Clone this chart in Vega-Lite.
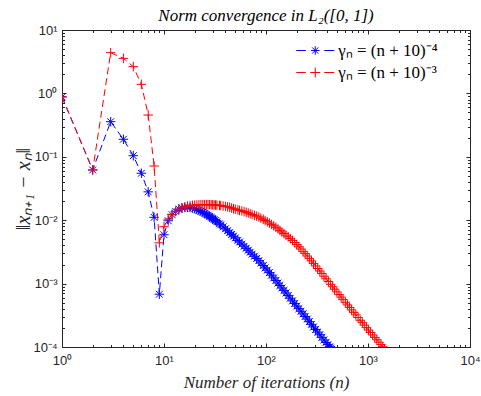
{
  "$schema": "https://vega.github.io/schema/vega-lite/v6.json",
  "width": 408,
  "height": 317,
  "autosize": {"type": "none"},
  "padding": {"left": 62, "top": 30, "right": 11, "bottom": 49},
  "background": "white",
  "config": {
    "view": {"stroke": "#262626", "strokeWidth": 1},
    "axis": {
      "domainColor": "#262626", "tickColor": "#262626", "labelColor": "#262626",
      "labelFont": "Liberation Sans", "labelFontSize": 13,
      "titleFont": "Liberation Serif", "titleFontStyle": "italic", "titleFontWeight": "normal",
      "titleFontSize": 17, "titleColor": "#262626",
      "grid": false, "labelOverlap": false, "labelFlush": false,
      "domainWidth": 1, "tickWidth": 1
    }
  },
  "title": {
    "text": "Norm convergence in L₂([0, 1])",
    "font": "Liberation Serif", "fontStyle": "italic", "fontWeight": "normal",
    "fontSize": 17, "color": "#000000", "anchor": "middle", "baseline": "bottom", "offset": 8, "dy": 26
  },
  "data": {"values": [
    {"s":"g4","n":1,"v":0.88},{"s":"g4","n":2,"v":0.062},{"s":"g4","n":3,"v":0.358},{"s":"g4","n":4,"v":0.189},
    {"s":"g4","n":5,"v":0.104},{"s":"g4","n":6,"v":0.055},{"s":"g4","n":7,"v":0.028},{"s":"g4","n":8,"v":0.0111},
    {"s":"g4","n":9,"v":0.00068},{"s":"g4","n":10,"v":0.0059},{"s":"g4","n":11,"v":0.0098},{"s":"g4","n":12,"v":0.0122},
    {"s":"g4","n":13,"v":0.0138},{"s":"g4","n":14,"v":0.015},{"s":"g4","n":15,"v":0.0156},{"s":"g4","n":16,"v":0.01586},
    {"s":"g4","n":17,"v":0.01598},{"s":"g4","n":18,"v":0.01586},{"s":"g4","n":19,"v":0.01557},{"s":"g4","n":20,"v":0.01518},
    {"s":"g4","n":21,"v":0.01475},{"s":"g4","n":22,"v":0.01433},{"s":"g4","n":23,"v":0.01384},{"s":"g4","n":24,"v":0.01337},
    {"s":"g4","n":25,"v":0.01289},{"s":"g4","n":26,"v":0.01243},{"s":"g4","n":27,"v":0.01197},{"s":"g4","n":28,"v":0.01152},
    {"s":"g4","n":29,"v":0.01107},{"s":"g4","n":30,"v":0.01063},{"s":"g4","n":31,"v":0.01025},{"s":"g4","n":32,"v":0.00985},
    {"s":"g4","n":33,"v":0.00947},{"s":"g4","n":35,"v":0.00878},{"s":"g4","n":36,"v":0.00846},{"s":"g4","n":38,"v":0.00787},
    {"s":"g4","n":40,"v":0.00732},{"s":"g4","n":42,"v":0.00683},{"s":"g4","n":44,"v":0.00637},{"s":"g4","n":46,"v":0.00597},
    {"s":"g4","n":48,"v":0.00559},{"s":"g4","n":50,"v":0.00525},{"s":"g4","n":53,"v":0.0048},{"s":"g4","n":55,"v":0.00453},
    {"s":"g4","n":58,"v":0.00418},{"s":"g4","n":61,"v":0.00388},{"s":"g4","n":64,"v":0.0036},{"s":"g4","n":67,"v":0.00336},
    {"s":"g4","n":70,"v":0.00313},{"s":"g4","n":73,"v":0.00291},{"s":"g4","n":77,"v":0.0027},{"s":"g4","n":81,"v":0.00249},
    {"s":"g4","n":85,"v":0.0023},{"s":"g4","n":89,"v":0.00211},{"s":"g4","n":94,"v":0.00193},{"s":"g4","n":98,"v":0.00177},
    {"s":"g4","n":103,"v":0.00163},{"s":"g4","n":108,"v":0.00149},{"s":"g4","n":113,"v":0.00136},{"s":"g4","n":119,"v":0.00123},
    {"s":"g4","n":125,"v":0.00112},{"s":"g4","n":131,"v":0.00102},{"s":"g4","n":137,"v":0.000933},{"s":"g4","n":143,"v":0.000853},
    {"s":"g4","n":150,"v":0.000781},{"s":"g4","n":157,"v":0.000711},{"s":"g4","n":165,"v":0.000647},{"s":"g4","n":173,"v":0.000588},
    {"s":"g4","n":182,"v":0.000534},{"s":"g4","n":191,"v":0.000486},{"s":"g4","n":200,"v":0.000442},{"s":"g4","n":210,"v":0.000402},
    {"s":"g4","n":220,"v":0.000366},{"s":"g4","n":231,"v":0.000333},{"s":"g4","n":242,"v":0.000303},{"s":"g4","n":254,"v":0.000276},
    {"s":"g4","n":266,"v":0.000251},{"s":"g4","n":279,"v":0.000228},{"s":"g4","n":292,"v":0.000207},{"s":"g4","n":306,"v":0.000189},
    {"s":"g4","n":321,"v":0.000172},{"s":"g4","n":337,"v":0.000156},{"s":"g4","n":353,"v":0.000142},{"s":"g4","n":370,"v":0.000129},
    {"s":"g4","n":388,"v":0.000118},{"s":"g4","n":404,"v":0.000109},{"s":"g4","n":420,"v":0.0001007},{"s":"g4","n":430,"v":0.0000961},
    {"s":"g4","n":440,"v":0.0000917},
    {"s":"g3","n":1,"v":0.88},{"s":"g3","n":2,"v":0.062},{"s":"g3","n":3,"v":4.39},{"s":"g3","n":4,"v":3.57},
    {"s":"g3","n":5,"v":2.64},{"s":"g3","n":6,"v":1.39},{"s":"g3","n":7,"v":0.456},{"s":"g3","n":8,"v":0.0716},
    {"s":"g3","n":9,"v":0.0044},{"s":"g3","n":10,"v":0.0079},{"s":"g3","n":11,"v":0.0104},{"s":"g3","n":12,"v":0.0124},
    {"s":"g3","n":13,"v":0.0137},{"s":"g3","n":14,"v":0.0148},{"s":"g3","n":15,"v":0.0157},{"s":"g3","n":16,"v":0.0163},
    {"s":"g3","n":17,"v":0.0167},{"s":"g3","n":18,"v":0.017},{"s":"g3","n":19,"v":0.0172},{"s":"g3","n":20,"v":0.0173},
    {"s":"g3","n":21,"v":0.0174},{"s":"g3","n":22,"v":0.0175},{"s":"g3","n":23,"v":0.01755},{"s":"g3","n":24,"v":0.0176},
    {"s":"g3","n":25,"v":0.0176},{"s":"g3","n":26,"v":0.0176},{"s":"g3","n":27,"v":0.0176},{"s":"g3","n":28,"v":0.0176},
    {"s":"g3","n":29,"v":0.01755},{"s":"g3","n":30,"v":0.0175},{"s":"g3","n":31,"v":0.0174},{"s":"g3","n":32,"v":0.01735},
    {"s":"g3","n":33,"v":0.0173},{"s":"g3","n":35,"v":0.0171},{"s":"g3","n":36,"v":0.017},{"s":"g3","n":38,"v":0.01675},
    {"s":"g3","n":40,"v":0.0165},{"s":"g3","n":42,"v":0.01625},{"s":"g3","n":44,"v":0.016},{"s":"g3","n":46,"v":0.01555},
    {"s":"g3","n":48,"v":0.01513},{"s":"g3","n":50,"v":0.01489},{"s":"g3","n":53,"v":0.01454},{"s":"g3","n":55,"v":0.01427},
    {"s":"g3","n":58,"v":0.01402},{"s":"g3","n":61,"v":0.01366},{"s":"g3","n":64,"v":0.01332},{"s":"g3","n":67,"v":0.01296},
    {"s":"g3","n":70,"v":0.01261},{"s":"g3","n":73,"v":0.01227},{"s":"g3","n":77,"v":0.01195},{"s":"g3","n":81,"v":0.01158},
    {"s":"g3","n":85,"v":0.01123},{"s":"g3","n":89,"v":0.01077},{"s":"g3","n":94,"v":0.01033},{"s":"g3","n":98,"v":0.00988},
    {"s":"g3","n":103,"v":0.00944},{"s":"g3","n":108,"v":0.009},{"s":"g3","n":113,"v":0.00859},{"s":"g3","n":119,"v":0.00815},
    {"s":"g3","n":125,"v":0.00773},{"s":"g3","n":131,"v":0.0073},{"s":"g3","n":137,"v":0.0069},{"s":"g3","n":143,"v":0.00653},
    {"s":"g3","n":150,"v":0.00617},{"s":"g3","n":157,"v":0.00581},{"s":"g3","n":165,"v":0.00547},{"s":"g3","n":173,"v":0.00512},
    {"s":"g3","n":182,"v":0.0048},{"s":"g3","n":191,"v":0.00445},{"s":"g3","n":200,"v":0.00412},{"s":"g3","n":210,"v":0.0038},
    {"s":"g3","n":220,"v":0.00351},{"s":"g3","n":231,"v":0.00323},{"s":"g3","n":242,"v":0.00297},{"s":"g3","n":254,"v":0.00272},
    {"s":"g3","n":266,"v":0.0025},{"s":"g3","n":279,"v":0.00228},{"s":"g3","n":292,"v":0.00208},{"s":"g3","n":306,"v":0.0019},
    {"s":"g3","n":321,"v":0.00173},{"s":"g3","n":337,"v":0.00158},{"s":"g3","n":353,"v":0.00144},{"s":"g3","n":370,"v":0.00131},
    {"s":"g3","n":388,"v":0.00119},{"s":"g3","n":409,"v":0.00108},{"s":"g3","n":430,"v":0.000975},{"s":"g3","n":450,"v":0.000892},
    {"s":"g3","n":470,"v":0.000816},{"s":"g3","n":495,"v":0.00074},{"s":"g3","n":520,"v":0.000671},{"s":"g3","n":545,"v":0.000612},
    {"s":"g3","n":570,"v":0.000559},{"s":"g3","n":600,"v":0.000508},{"s":"g3","n":630,"v":0.000461},{"s":"g3","n":660,"v":0.000421},
    {"s":"g3","n":690,"v":0.000385},{"s":"g3","n":725,"v":0.000352},{"s":"g3","n":760,"v":0.000321},{"s":"g3","n":800,"v":0.000291},
    {"s":"g3","n":840,"v":0.000264},{"s":"g3","n":880,"v":0.000242},{"s":"g3","n":920,"v":0.000221},{"s":"g3","n":965,"v":0.000202},
    {"s":"g3","n":1010,"v":0.000185},{"s":"g3","n":1060,"v":0.000169},{"s":"g3","n":1110,"v":0.000155},{"s":"g3","n":1165,"v":0.000142},
    {"s":"g3","n":1220,"v":0.00013},{"s":"g3","n":1280,"v":0.000119},{"s":"g3","n":1340,"v":0.000109},{"s":"g3","n":1395,"v":0.000101},
    {"s":"g3","n":1450,"v":0.0000944}
  ]},
  "encoding": {
    "x": {"field": "n", "type": "quantitative", "scale": {"type": "log", "domain": [1, 10000]}, "axis": null},
    "y": {"field": "v", "type": "quantitative", "scale": {"type": "log", "domain": [0.0001, 10]}, "axis": null}
  },
  "layer": [
    {
      "transform": [{"filter": "datum.s == 'g4'"}],
      "mark": {"type": "line", "color": "#0000ff", "strokeDash": [7, 4], "strokeWidth": 1, "clip": true},
      "encoding": {
        "x": {"field": "n", "type": "quantitative",
          "scale": {"type": "log", "domain": [1, 10000]},
          "axis": {"orient": "bottom",
            "values": [1,2,3,4,5,6,7,8,9,10,20,30,40,50,60,70,80,90,100,200,300,400,500,600,700,800,900,1000,2000,3000,4000,5000,6000,7000,8000,9000,10000],
            "tickSize": {"condition": {"test": "abs(log(datum.value)/LN10 - round(log(datum.value)/LN10)) < 0.001", "value": -4}, "value": -2.5},
            "labelPadding": 11,
            "labelExpr": "abs(log(datum.value)/LN10 - round(log(datum.value)/LN10)) < 0.001 ? ('10' + (datum.value < 0.5 ? '⁻' : '') + ['⁰','¹','²','³','⁴'][abs(round(log(datum.value)/LN10))]) : ''",
            "title": "Number of iterations (n)", "titlePadding": 6}},
        "y": {"field": "v", "type": "quantitative",
          "scale": {"type": "log", "domain": [0.0001, 10]},
          "axis": {"orient": "left",
            "values": [0.0001,0.0002,0.0003,0.0004,0.0005,0.0006,0.0007,0.0008,0.0009,0.001,0.002,0.003,0.004,0.005,0.006,0.007,0.008,0.009,0.01,0.02,0.03,0.04,0.05,0.06,0.07,0.08,0.09,0.1,0.2,0.3,0.4,0.5,0.6,0.7,0.8,0.9,1,2,3,4,5,6,7,8,9,10],
            "tickSize": {"condition": {"test": "abs(log(datum.value)/LN10 - round(log(datum.value)/LN10)) < 0.001", "value": -4}, "value": -2.5},
            "labelPadding": 9,
            "labelExpr": "abs(log(datum.value)/LN10 - round(log(datum.value)/LN10)) < 0.001 ? ('10' + (datum.value < 0.5 ? '⁻' : '') + ['⁰','¹','²','³','⁴'][abs(round(log(datum.value)/LN10))]) : ''",
            "title": "‖xₙ₊₁ − xₙ‖", "titleFontSize": 20, "titlePadding": -1}}
      }
    },
    {
      "transform": [{"filter": "datum.s == 'g4'"}],
      "mark": {"type": "point", "filled": false, "color": "#0000ff", "strokeWidth": 1, "opacity": 1, "size": 90, "clip": true,
        "shape": "M-1,0L1,0M0,-1L0,1M-0.72,-0.72L0.72,0.72M-0.72,0.72L0.72,-0.72"},
      "encoding": {}
    },
    {
      "transform": [{"filter": "datum.s == 'g3'"}],
      "mark": {"type": "line", "color": "#ff0000", "strokeDash": [7, 4], "strokeWidth": 1, "clip": true},
      "encoding": {}
    },
    {
      "transform": [{"filter": "datum.s == 'g3'"}],
      "mark": {"type": "point", "filled": false, "color": "#ff0000", "strokeWidth": 1, "opacity": 1, "size": 90, "clip": true,
        "shape": "M-1,0L1,0M0,-1L0,1"},
      "encoding": {}
    },
    {
      "transform": [{"filter": "false"}],
      "mark": {"type": "point", "filled": false, "strokeWidth": 1, "opacity": 1, "size": 90},
      "encoding": {
        "color": {"field": "s", "type": "nominal",
          "scale": {"domain": ["g4", "g3"], "range": ["#0000ff", "#ff0000"]},
          "legend": {
            "orient": "none", "legendX": 230.5, "legendY": 12, "title": null, "padding": 0,
            "symbolSize": 90, "symbolStrokeWidth": 1, "symbolFillColor": "transparent", "symbolOffset": 14.25,
            "labelFont": "Liberation Serif", "labelFontSize": 17, "labelColor": "#000000", "labelOffset": 14.5,
            "rowPadding": 4,
            "labelExpr": "datum.value == 'g4' ? 'γₙ = (n + 10)⁻⁴' : 'γₙ = (n + 10)⁻³'"
          }},
        "shape": {"field": "s", "type": "nominal",
          "scale": {"domain": ["g4", "g3"], "range": [
            "M-4,0L-2,0M1.9,0L4,0M-0.9,0L0.9,0M0,-0.9L0,0.9M-0.65,-0.65L0.65,0.65M-0.65,0.65L0.65,-0.65",
            "M-4,0L-2,0M1.9,0L4,0M-1.05,0L1.05,0M0,-1.05L0,1.05"]},
          "legend": {
            "orient": "none", "legendX": 230.5, "legendY": 12, "title": null, "padding": 0,
            "symbolSize": 90, "symbolStrokeWidth": 1, "symbolFillColor": "transparent", "symbolOffset": 14.25,
            "labelFont": "Liberation Serif", "labelFontSize": 17, "labelColor": "#000000", "labelOffset": 14.5,
            "rowPadding": 4,
            "labelExpr": "datum.value == 'g4' ? 'γₙ = (n + 10)⁻⁴' : 'γₙ = (n + 10)⁻³'"
          }}
      }
    },
    {
      "mark": {"type": "point", "opacity": 0},
      "encoding": {
        "x": {"field": "n", "type": "quantitative", "scale": {"type": "log", "domain": [1, 10000]},
          "axis": {"orient": "top", "labels": false, "title": null,
            "values": [1,2,3,4,5,6,7,8,9,10,20,30,40,50,60,70,80,90,100,200,300,400,500,600,700,800,900,1000,2000,3000,4000,5000,6000,7000,8000,9000,10000],
            "tickSize": {"condition": {"test": "abs(log(datum.value)/LN10 - round(log(datum.value)/LN10)) < 0.001", "value": -4}, "value": -2.5}}},
        "y": {"field": "v", "type": "quantitative", "scale": {"type": "log", "domain": [0.0001, 10]},
          "axis": {"orient": "right", "labels": false, "title": null,
            "values": [0.0001,0.0002,0.0003,0.0004,0.0005,0.0006,0.0007,0.0008,0.0009,0.001,0.002,0.003,0.004,0.005,0.006,0.007,0.008,0.009,0.01,0.02,0.03,0.04,0.05,0.06,0.07,0.08,0.09,0.1,0.2,0.3,0.4,0.5,0.6,0.7,0.8,0.9,1,2,3,4,5,6,7,8,9,10],
            "tickSize": {"condition": {"test": "abs(log(datum.value)/LN10 - round(log(datum.value)/LN10)) < 0.001", "value": -4}, "value": -2.5}}}
      }
    }
  ],
  "resolve": {"axis": {"x": "independent", "y": "independent"}}
}
